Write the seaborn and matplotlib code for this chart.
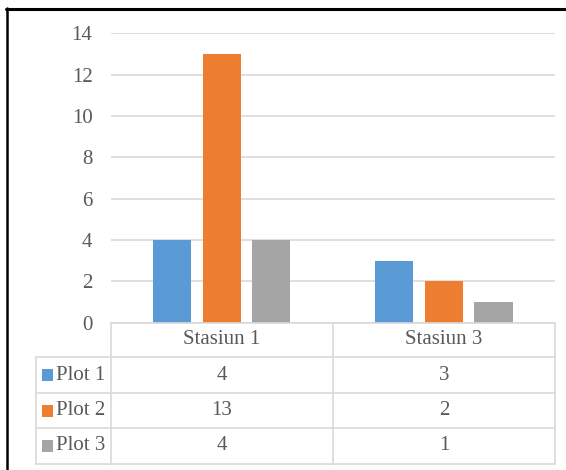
import matplotlib
matplotlib.use("Agg")
import matplotlib.pyplot as plt
import matplotlib.patches as mpatches
from matplotlib.lines import Line2D
from matplotlib.transforms import blended_transform_factory
from matplotlib import font_manager
import seaborn as sns
import pandas as pd

# ---- data ----
stations = ["Stasiun 1", "Stasiun 3"]
series = ["Plot 1", "Plot 2", "Plot 3"]
plot1 = [4, 3]
plot2 = [13, 2]
plot3 = [4, 1]
colors = ["#5B9BD5", "#ED7D31", "#A5A5A5"]
yticks = [0, 2, 4, 6, 8, 10, 12, 14]

values = [plot1, plot2, plot3]
rows = []
for s, vals in zip(series, values):
    for st, v in zip(stations, vals):
        rows.append({"station": st, "plot": s, "value": v})
df = pd.DataFrame(rows)

sns.set_theme(style="white")
plt.rcParams["font.family"] = "serif"
plt.rcParams["font.serif"] = ["Liberation Serif", "Times New Roman", "DejaVu Serif"]
serif_path = font_manager.findfont(font_manager.FontProperties(family="serif"))
fp = font_manager.FontProperties(fname=serif_path)
font_name = fp.get_name()

W, H = 566, 470
fig = plt.figure(figsize=(W / 100, H / 100), dpi=100)
fig.patch.set_facecolor("white")

def fx(px):
    return px / W

def fy(py):
    return 1 - py / H

x_left, x_right = 110.5, 555
y_zero, y_top = 322.5, 33.3
ax = fig.add_axes([fx(x_left), fy(y_zero), fx(x_right) - fx(x_left), fy(y_top) - fy(y_zero)])

sns.barplot(data=df, x="station", y="value", hue="plot", hue_order=series,
            order=stations, palette=colors, width=0.669, gap=0.23,
            ax=ax, legend=False, saturation=1, edgecolor="none")

txt_c = "#595959"
fs = 15

ax.set_xlim(-0.5, 1.5)
ax.set_ylim(0, 14)
ax.set_yticks(yticks)
ax.set_yticklabels([str(t) for t in yticks], fontfamily=font_name)
ax.set_xticks([])
ax.set_xlabel("")
ax.set_ylabel("")
ax.tick_params(axis="y", length=0, pad=13, labelsize=fs, labelcolor=txt_c)
for sp in ax.spines.values():
    sp.set_visible(False)
ax.grid(axis="y", color="#D9D9D9", linewidth=1.2)
ax.set_axisbelow(True)

# ---- data table ----
grid_c = "#D9D9D9"
lw = 1.2
row_y = [322.5, 357, 393, 428, 464]
tab_left = 36
col_x = [x_left, 332.5, x_right]

def hline(y, x0, x1):
    fig.add_artist(Line2D([fx(x0), fx(x1)], [fy(y), fy(y)], color=grid_c, lw=lw))

def vline(x, y0, y1):
    fig.add_artist(Line2D([fx(x), fx(x)], [fy(y0), fy(y1)], color=grid_c, lw=lw))

hline(row_y[0], x_left, x_right)
for y in row_y[1:]:
    hline(y, tab_left, x_right)
vline(tab_left, row_y[1], row_y[-1])
for x in col_x:
    vline(x, row_y[0], row_y[-1])

trans = blended_transform_factory(ax.transData, fig.transFigure)
for i, st in enumerate(stations):
    fig.text(i, fy((row_y[0] + row_y[1]) / 2), st, transform=trans,
             ha="center", va="center", fontsize=fs, color=txt_c, fontfamily=font_name)

for r, (s, vals) in enumerate(zip(series, values)):
    yc = (row_y[r + 1] + row_y[r + 2]) / 2
    fig.add_artist(mpatches.Rectangle((fx(42), fy(yc + 6)), fx(11), 12 / H,
                                      transform=fig.transFigure,
                                      facecolor=colors[r], edgecolor="none"))
    fig.text(fx(56), fy(yc), s, ha="left", va="center", fontsize=fs, color=txt_c,
             fontfamily=font_name)
    for i, v in enumerate(vals):
        fig.text(i, fy(yc), str(v), transform=trans, ha="center", va="center",
                 fontsize=fs, color=txt_c, fontfamily=font_name)

# ---- outer frame lines (top and left) ----
fig.add_artist(Line2D([fx(6), 1], [fy(9), fy(9)], color="black", lw=2.2))
fig.add_artist(Line2D([fx(7), fx(7)], [fy(8), 0], color="black", lw=1.8))

fig.savefig("out.png", dpi=100, facecolor="white")
